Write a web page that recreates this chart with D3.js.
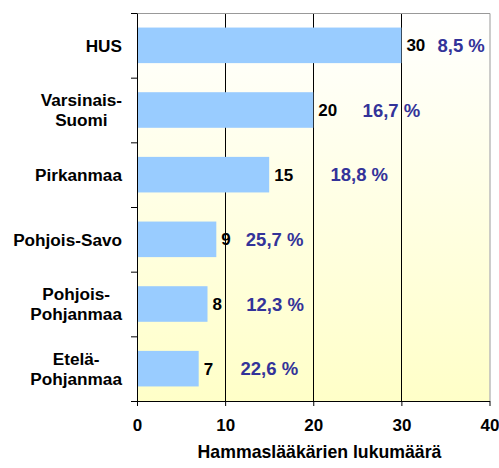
<!DOCTYPE html>
<html>
<head>
<meta charset="utf-8">
<script src="https://cdn.jsdelivr.net/npm/d3@7"></script>
<style>
  body { margin: 0; background: #fff; }
  text { font-family: "Liberation Sans", Arial, sans-serif; font-weight: bold; }
</style>
</head>
<body>
<div class="chart"></div>
<script>
// data
var regions = ["HUS", "Varsinais-\nSuomi", "Pirkanmaa", "Pohjois-Savo", "Pohjois-\nPohjanmaa", "Etelä-\nPohjanmaa"];
var dentists = [30, 20, 15, 9, 8, 7];
var shares = ["8,5 %", "16,7 %", "18,8 %", "25,7 %", "12,3 %", "22,6 %"];
var xTicks = [0, 10, 20, 30, 40];
var xTitle = "Hammaslääkärien lukumäärä";

// where the percentage texts start, in axis units
var shareAt = [34.1, 25.6, 21.95, 12.35, 12.4, 11.75];

var width = 499, height = 468;
var plotL = 137, plotR = 489.5, plotT = 13, plotB = 401;

var svg = d3.select(".chart").append("svg")
            .attr("width", width).attr("height", height);

var grad = svg.append("defs").append("linearGradient")
              .attr("id", "bg").attr("x1", 0).attr("y1", 0).attr("x2", 0).attr("y2", 1);
grad.append("stop").attr("offset", "0%").attr("stop-color", "#ffffff");
grad.append("stop").attr("offset", "100%").attr("stop-color", "#ffffc8");

var x = d3.scaleLinear().domain([0, 40]).range([plotL, plotR]);
var y = d3.scaleBand().domain(regions).range([plotT, plotB])
          .paddingInner(0.45).paddingOuter(0.225);
var yTick = d3.scaleLinear().domain([0, regions.length]).range([plotT, plotB]);

svg.append("rect").attr("x", plotL).attr("y", plotT)
   .attr("width", plotR - plotL).attr("height", plotB - plotT)
   .attr("fill", "url(#bg)");

// grid
svg.append("g").selectAll("line").data(xTicks.slice(1, -1)).enter().append("line")
   .attr("x1", d => Math.round(x(d)) + 0.5).attr("x2", d => Math.round(x(d)) + 0.5)
   .attr("y1", plotT).attr("y2", plotB)
   .attr("stroke", "#000").attr("stroke-width", 1);
// frame top/right in gray
svg.append("path")
   .attr("d", "M" + plotL + "," + (plotT + 0.5) + "H" + (plotR + 0.5) + "V" + plotB)
   .attr("fill", "none").attr("stroke", "#999").attr("stroke-width", 1);

// bars
svg.append("g").selectAll("rect").data(dentists).enter().append("rect")
   .attr("x", x(0))
   .attr("y", (d, i) => y(regions[i]))
   .attr("width", d => x(d) - x(0))
   .attr("height", y.bandwidth())
   .attr("fill", "#99ccff");

// axes
var xAxis = svg.append("g").attr("transform", "translate(0," + plotB + ")")
   .call(d3.axisBottom(x).tickValues(xTicks).tickSize(5).tickSizeOuter(0).tickPadding(13));
xAxis.selectAll("text").attr("font-size", 17).attr("fill", "#000")
     .style("font-family", "'Liberation Sans', Arial, sans-serif");
xAxis.select(".domain").attr("stroke", "#000");

var yAxis = svg.append("g").attr("transform", "translate(" + plotL + ",0)")
   .call(d3.axisLeft(yTick).tickValues(d3.range(regions.length + 1)).tickSize(6).tickSizeOuter(0).tickFormat(""));
yAxis.select(".domain").attr("stroke", "#000");

// category labels
var cats = svg.append("g").selectAll("text").data(regions).enter().append("text")
   .attr("font-size", 17.2).attr("fill", "#000").attr("text-anchor", "middle");
cats.each(function(d) {
  var lines = d.split("\n");
  var t = d3.select(this);
  var cy = y(d) + y.bandwidth() / 2;
  var lh = 20.5;
  lines.forEach(function(s, k) {
    t.append("tspan").attr("y", cy + (k - (lines.length - 1) / 2) * lh).attr("dy", "0.36em").text(s);
  });
  var w = 0;
  t.selectAll("tspan").each(function() { w = Math.max(w, this.getComputedTextLength()); });
  t.selectAll("tspan").attr("x", 122 - w / 2);
});

// value labels
svg.append("g").selectAll("text").data(dentists).enter().append("text")
   .attr("x", d => x(d) + 5)
   .attr("y", (d, i) => y(regions[i]) + y.bandwidth() / 2)
   .attr("dy", "0.36em")
   .attr("font-size", 17).attr("fill", "#000")
   .text(d => d);

// share labels
svg.append("g").selectAll("text").data(shares).enter().append("text")
   .attr("x", (d, i) => x(shareAt[i]))
   .attr("y", (d, i) => y(regions[i]) + y.bandwidth() / 2)
   .attr("dy", "0.36em")
   .attr("font-size", 18.5).attr("fill", "#333399")
   .text(d => d);

svg.append("text").attr("x", 319.5).attr("y", 458)
   .attr("text-anchor", "middle").attr("font-size", 17.7).attr("fill", "#000")
   .text(xTitle);
</script>
</body>
</html>
